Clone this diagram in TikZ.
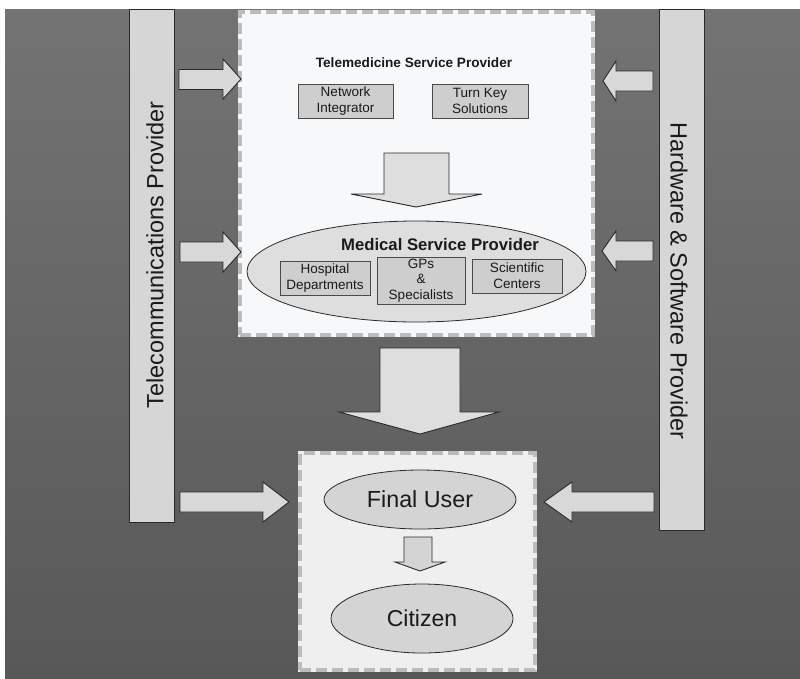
\documentclass[tikz,border=0pt]{standalone}
\usepackage{fontspec}
\setmainfont{Liberation Sans}
\usetikzlibrary{shapes.geometric}
\definecolor{bgtop}{HTML}{737373}
\definecolor{bgbot}{HTML}{585858}
\definecolor{barfill}{HTML}{D6D6D6}
\definecolor{arrfill}{HTML}{D8D8D8}
\definecolor{boxfill}{HTML}{CECECE}
\definecolor{ellfill}{HTML}{DEDEDE}
\definecolor{userfill}{HTML}{D4D4D4}
\definecolor{topfill}{HTML}{F7F8FA}
\definecolor{botfill}{HTML}{EFEFEF}
\definecolor{dashcol}{HTML}{BCBCBC}
\definecolor{edge}{HTML}{2A2A2A}
\definecolor{ink}{HTML}{1A1A1A}
\tikzset{
  barbox/.style={draw=edge, line width=0.9pt, fill=barfill, inner sep=0pt},
  barlabel/.style={inner sep=0pt, text=ink, font=\fontsize{23.5}{26}\selectfont},
  blockarrow/.style={draw=edge, line width=0.9pt, fill=arrfill, line join=miter},
  zone/.style={draw=dashcol, line width=3.5pt, dash pattern=on 11pt off 5pt, inner sep=0pt},
  smallbox/.style={draw=edge!85, line width=0.8pt, fill=boxfill, inner sep=0pt, align=center,
    text=ink, font=\fontsize{13.5}{15.8}\selectfont},
  oval/.style={ellipse, draw=edge, line width=0.8pt, inner sep=0pt, text=ink},
  title/.style={inner sep=0pt, text=ink, anchor=base}
}
\begin{document}
\begin{tikzpicture}[x=1pt,y=-1pt]
\useasboundingbox (0,0) rectangle (800,678);
\fill[white] (0,0) rectangle (800,678);
\foreach \i in {0,...,66} {
  \pgfmathsetmacro\p{100*\i/66}
  \fill[bgbot!\p!bgtop] (5,{9+10*\i}) rectangle (800,{19.5+10*\i});
}

% side bars
\node[barbox, minimum width=45, minimum height=513] (tel) at (152,265.5) {};
\node[barlabel, rotate=90] (tellabel) at (155,255) {Telecommunications Provider};
\node[barbox, minimum width=45, minimum height=521] (hw) at (682,269.5) {};
\node[barlabel, rotate=-90] (hwlabel) at (679,281) {Hardware \& Software Provider};

% zones
\fill[topfill] (238.25,10.25) rectangle (594.75,336.75);
\node[zone, minimum width=353, minimum height=323] (tsp) at (416.5,173.5) {};
\fill[botfill] (298.25,451.25) rectangle (536.75,671.75);
\node[zone, minimum width=235, minimum height=217] (fu) at (417.5,561.5) {};

% side arrows
\draw[blockarrow] (179,69.5) -- (223,69.5) -- (223,59) -- (241,79) -- (223,99) -- (223,89.5) -- (179,89.5) -- cycle;
\draw[blockarrow] (180,242) -- (223,242) -- (223,232) -- (241,252) -- (223,272) -- (223,262) -- (180,262) -- cycle;
\draw[blockarrow] (180,492) -- (263,492) -- (263,482) -- (289,502) -- (263,522) -- (263,512) -- (180,512) -- cycle;
\draw[blockarrow] (653,71) -- (616,71) -- (616,61) -- (603,81) -- (616,101) -- (616,91) -- (653,91) -- cycle;
\draw[blockarrow] (653,241) -- (616,241) -- (616,231) -- (602,251) -- (616,271) -- (616,261) -- (653,261) -- cycle;
\draw[blockarrow] (654,492) -- (572,492) -- (572,482) -- (544,502) -- (572,522) -- (572,512) -- (654,512) -- cycle;

% telemedicine service provider
\node[title, font=\fontsize{13.6}{16}\selectfont\bfseries] (tsptitle) at (414,67) {Telemedicine Service Provider};
\node[smallbox, minimum width=95, minimum height=34] (ni) at (345.5,101) {Network\\Integrator};
\node[smallbox, minimum width=96, minimum height=34] (tk) at (480,101) {Turn Key\\Solutions};

\draw[blockarrow, fill=ellfill] (384,153) -- (449,153) -- (449,194) -- (482,194) -- (416,207) -- (351,194) -- (384,194) -- cycle;

% medical service provider
\node[oval, fill=ellfill, minimum width=339, minimum height=101] (msp) at (416.5,271.5) {};
\node[title, font=\fontsize{16.7}{19}\selectfont\bfseries] (msptitle) at (440,250) {Medical Service Provider};
\node[smallbox, minimum width=90, minimum height=34] (hd) at (325,278) {Hospital\\Departments};
\node[smallbox, minimum width=88, minimum height=47] (gp) at (421,280.5) {GPs\\\&\\Specialists};
\node[smallbox, minimum width=90, minimum height=34] (sc) at (517,276) {Scientific\\Centers};

% big arrow
\draw[blockarrow, fill=ellfill] (380,348) -- (460,348) -- (460,412) -- (499,412) -- (420,434) -- (339,412) -- (380,412) -- cycle;

% final user
\node[oval, fill=userfill, minimum width=192, minimum height=59, font=\fontsize{23.3}{26}\selectfont] (user) at (420,499.5) {Final User};
\draw[blockarrow, fill=userfill] (404,537) -- (432,537) -- (432,562) -- (445,562) -- (420,571) -- (395,562) -- (404,562) -- cycle;
\node[oval, fill=userfill, minimum width=182, minimum height=69, font=\fontsize{23}{26}\selectfont] (cit) at (422,618.5) {Citizen};
\end{tikzpicture}
\end{document}
